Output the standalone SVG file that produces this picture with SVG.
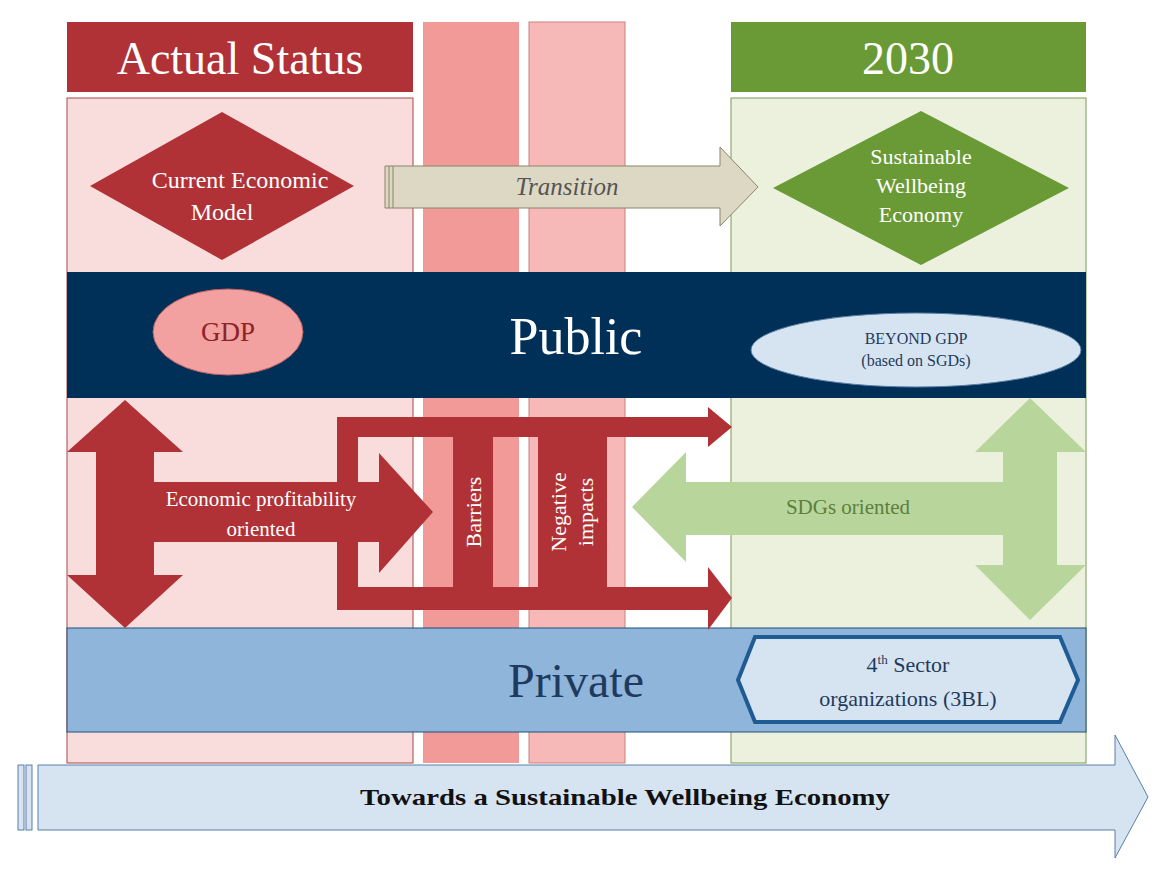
<svg xmlns="http://www.w3.org/2000/svg" width="1165" height="874" viewBox="0 0 1165 874">
<style>
text{font-family:"Liberation Serif","DejaVu Serif",serif;text-anchor:middle}
.red{fill:#b03236}
.grn{fill:#b8d69c}
.w{fill:#fff}
</style>
<rect width="1165" height="874" fill="#fff"/>
<g id="columns">
<rect x="67" y="98" width="346" height="665" fill="#f9dcdc" stroke="#a8474a" stroke-width="1"/>
<rect x="423" y="22" width="96" height="741" fill="#f19a98"/>
<rect x="529" y="22" width="96" height="741" fill="#f6b9b8" stroke="#c98080" stroke-width="1"/>
<rect x="731" y="98" width="355" height="665" fill="#ecf1de" stroke="#7a9a55" stroke-width="1"/>
</g>
<g id="hdr-actual"><rect x="67" y="22" width="346" height="70" fill="#b03236"/><text x="240" y="74" font-size="46" class="w">Actual Status</text></g>
<g id="hdr-2030"><rect x="731" y="22" width="355" height="70" fill="#6a9a35"/><text x="908" y="74" font-size="46" class="w">2030</text></g>
<g id="public"><rect x="67" y="272" width="1019" height="126" fill="#003057"/><text x="576" y="354" font-size="52" class="w">Public</text></g>
<g id="private"><rect x="67" y="628" width="1019" height="104" fill="#8fb5da" stroke="#1f4e79" stroke-width="1"/><text x="576" y="697" font-size="48" fill="#1f3a5c">Private</text></g>
<g id="connectors">
<g id="transition"><path d="M385,166 H720 V147 L758,187 L720,226 V208 H385 Z" fill="#ddd8c4" stroke="#8a8468"/><path d="M389,166V208M393,166V208" stroke="#8a8468"/><text x="567" y="195" font-size="25" font-style="italic" fill="#555">Transition</text></g>
<g id="red-arrows" class="red">
<path d="M125,400 L183,452 H154 V575 H183 L125,628 L67,575 H96 V452 H67 Z"/>
<path d="M150,482 H379 V453 L433,512 L379,573 V542 H150 Z"/>
<path d="M337,417 H708 V407 L732,427 L708,447 V437 H358 V587 H708 V567 L732,598 L708,630 V610 H337 Z"/>
</g>
<g id="green-arrows" class="grn">
<path d="M1030,398 L1086,452 H1057 V565 H1086 L1030,620 L975,565 H1003 V452 H975 Z"/>
<path d="M632,507 L686,452 V482 H1006 V535 H686 V562 Z"/>
</g>
<g id="bottom"><path d="M38,765 H1115 V735 L1148,797 L1115,858 V830 H38 Z" fill="#d6e4f2" stroke="#5a7fa5"/><rect x="18" y="765" width="6" height="65" fill="#d6e4f2" stroke="#5a7fa5"/><rect x="26" y="765" width="6" height="65" fill="#d6e4f2" stroke="#5a7fa5"/><text x="625" y="805" font-size="24" font-weight="bold" fill="#111" textLength="530" lengthAdjust="spacingAndGlyphs">Towards a Sustainable Wellbeing Economy</text></g>
</g>
<g id="barriers"><rect x="453" y="437" width="40" height="150" class="red"/><text transform="translate(481,512) rotate(-90)" font-size="22" class="w">Barriers</text></g>
<g id="negative"><rect x="538" y="437" width="69" height="150" class="red"/><text transform="translate(566,512) rotate(-90)" font-size="22" class="w">Negative</text><text transform="translate(593,512) rotate(-90)" font-size="22" class="w">impacts</text></g>
<g id="econ-text"><text x="261" y="506" font-size="21" class="w">Economic profitability</text><text x="261" y="536" font-size="21" class="w">oriented</text></g>
<g id="sdg-text"><text x="848" y="514" font-size="21" fill="#5d7f3d">SDGs oriented</text></g>
<g id="current"><path d="M222,112 L354,186 L222,260 L90,186 Z" fill="#b03236"/><text x="240" y="188" font-size="24" class="w">Current Economic</text><text x="222" y="220" font-size="24" class="w">Model</text></g>
<g id="sustainable"><path d="M921,111 L1069,188 L921,265 L773,188 Z" fill="#6a9a35"/><text x="921" y="164" font-size="22" class="w">Sustainable</text><text x="921" y="193" font-size="22" class="w">Wellbeing</text><text x="921" y="222" font-size="22" class="w">Economy</text></g>
<g id="gdp"><ellipse cx="228" cy="332" rx="75" ry="43" fill="#f2a0a0" stroke="#b86060"/><text x="228" y="341" font-size="27" fill="#8c2326">GDP</text></g>
<g id="beyond"><ellipse cx="916" cy="350" rx="165" ry="37" fill="#d6e4f2" stroke="#5a7fa5"/><text x="916" y="344" font-size="16" fill="#1f3a5c">BEYOND GDP</text><text x="916" y="366" font-size="16" fill="#1f3a5c">(based on SGDs)</text></g>
<g id="fourth"><path d="M755,637 H1060 L1078,680 L1060,722 H755 L738,680 Z" fill="#d6e4f2" stroke="#1f5c93" stroke-width="4"/><text x="908" y="672" font-size="22" fill="#1f3a5c">4<tspan font-size="13" dy="-8">th</tspan><tspan dy="8"> Sector</tspan></text><text x="908" y="706" font-size="22" fill="#1f3a5c">organizations (3BL)</text></g>
</svg>
